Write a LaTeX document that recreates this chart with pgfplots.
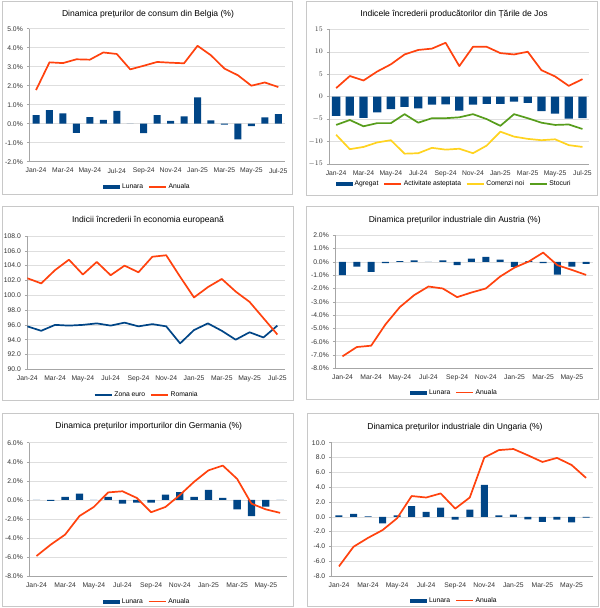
\documentclass[border=0pt]{standalone}
\usepackage{fontspec}
\setmainfont{Liberation Sans}
\usepackage{pgfplots}
\usepackage{pgfplotstable}
\pgfplotsset{compat=1.18}

\definecolor{bluebar}{HTML}{004586}
\definecolor{redline}{HTML}{FF420E}
\definecolor{yellowline}{HTML}{FFD320}
\definecolor{greenline}{HTML}{579D1C}
\definecolor{framegray}{HTML}{C8C8C8}

% Belgia: lunara, anuala
\pgfplotstableread{
x lun anu
0 0.45 1.77
1 0.72 3.23
2 0.55 3.19
3 -0.48 3.39
4 0.35 3.37
5 0.20 3.75
6 0.68 3.67
7 0.00 2.86
8 -0.50 3.05
9 0.45 3.25
10 0.15 3.21
11 0.38 3.18
12 1.38 4.10
13 0.18 3.60
14 -0.05 2.90
15 -0.82 2.55
16 -0.13 2.00
17 0.33 2.17
18 0.50 1.93
}\belgia

% Tarile de Jos
\pgfplotstableread{
x agr act com sto
0 -4.3 1.9 -8.5 -6.3
1 -4.2 4.6 -11.7 -5.2
2 -4.7 3.6 -11.2 -6.6
3 -3.5 5.6 -10.2 -5.9
4 -2.8 7.2 -9.7 -5.9
5 -2.3 9.4 -12.7 -3.9
6 -2.6 10.4 -12.6 -5.8
7 -1.8 10.7 -11.4 -4.8
8 -1.7 12.0 -11.8 -4.8
9 -3.1 6.8 -11.6 -4.6
10 -1.8 11.1 -12.6 -3.9
11 -1.6 11.1 -10.9 -5.0
12 -1.6 9.7 -7.8 -6.5
13 -1.1 9.4 -8.9 -3.9
14 -1.4 10.0 -9.4 -4.8
15 -3.2 5.9 -9.7 -5.8
16 -3.8 4.5 -9.5 -6.3
17 -4.9 2.4 -10.8 -6.2
18 -4.8 3.9 -11.2 -7.2
}\olanda

% Indicii increderii
\pgfplotstableread{
x euro rom
0 95.8 102.3
1 95.2 101.6
2 96.0 103.4
3 95.9 104.8
4 96.0 102.8
5 96.2 104.5
6 95.9 102.7
7 96.3 104.0
8 95.8 103.1
9 96.1 105.2
10 95.8 105.4
11 93.5 102.5
12 95.3 99.7
13 96.2 101.1
14 95.2 102.2
15 94.0 100.5
16 95.0 99.1
17 94.3 96.9
18 95.9 94.7
}\esi

% Austria
\pgfplotstableread{
x lun anu
0 -1.00 -7.10
1 -0.35 -6.40
2 -0.75 -6.30
3 -0.10 -4.70
4 0.05 -3.40
5 0.12 -2.50
6 0.00 -1.85
7 0.12 -2.00
8 -0.25 -2.65
9 0.25 -2.30
10 0.38 -2.00
11 0.18 -1.10
12 -0.38 -0.43
13 0.05 0.03
14 -0.10 0.70
15 -0.95 -0.25
16 -0.35 -0.60
17 -0.15 -0.98
}\austria

% Germania
\pgfplotstableread{
x lun anu
0 0.00 -5.90
1 -0.10 -4.70
2 0.30 -3.65
3 0.65 -1.70
4 0.00 -0.75
5 0.30 0.78
6 -0.40 0.90
7 -0.30 0.20
8 -0.30 -1.30
9 0.55 -0.75
10 0.80 0.50
11 0.30 1.90
12 1.05 3.10
13 0.20 3.60
14 -1.00 2.20
15 -1.70 -0.40
16 -0.70 -1.00
17 0.00 -1.37
}\germania

% Ungaria
\pgfplotstableread{
x lun anu
0 0.20 -6.70
1 0.40 -4.05
2 0.05 -2.85
3 -0.90 -1.80
4 0.20 -0.20
5 1.45 2.80
6 0.65 2.60
7 1.25 3.15
8 -0.40 1.10
9 0.95 2.60
10 4.30 8.00
11 0.20 9.00
12 0.30 9.15
13 -0.35 8.30
14 -0.70 7.40
15 -0.40 7.95
16 -0.75 7.00
17 -0.10 5.25
}\ungaria

\pgfplotsset{
  panel/.style={
    scale only axis, anchor=south west,
    axis x line*=bottom, axis y line*=left,
    axis line style={draw=black!35, line width=0.5bp},
    ymajorgrids, grid style={draw=black!13, line width=0.5bp},
    ytick style={draw=black!35, line width=0.5bp}, major tick length=2.5bp,
    xtick style={draw=none},
    tick align=outside,
    ticklabel style={font=\fontsize{6.8}{8}\selectfont, text=black!80},
    yticklabel style={xshift=-0.5bp},
    xticklabel style={yshift=-0.5bp},
    legend columns=-1,
    legend style={draw=none, fill=none, font=\fontsize{6.8}{8}\selectfont,
      anchor=center, inner sep=0pt,
      /tikz/every even column/.append style={column sep=3bp}},
  },
  months19/.style={xtick={0,2,...,18},
    xticklabels={Jan-24,Mar-24,May-24,Jul-24,Sep-24,Nov-24,Jan-25,Mar-25,May-25,Jul-25}},
  months18/.style={xtick={0,2,...,16},
    xticklabels={Jan-24,Mar-24,May-24,Jul-24,Sep-24,Nov-24,Jan-25,Mar-25,May-25}},
  pct/.style={yticklabel={\pgfmathprintnumber[fixed,fixed zerofill,precision=1,assume math mode=true]{\tick}\%}},
  dec1/.style={yticklabel={\pgfmathprintnumber[fixed,fixed zerofill,precision=1,assume math mode=true]{\tick}}},
  barplot/.style={ybar, bar width=#1, bar shift=0pt, fill=bluebar, draw=none,
    legend image code/.code={\fill[bluebar] (0bp,-2bp) rectangle (17bp,2bp);}},
  lineplot/.style={sharp plot, no markers, line width=1.7bp, draw=#1, line join=round,
    legend image code/.code={\draw[#1, line width=1.4bp] (0bp,0bp) -- (17bp,0bp);}},
}

\newcommand{\ttl}{\fontsize{8.6}{10}\selectfont}

\begin{document}
\begin{tikzpicture}
\path[use as bounding box, fill=white] (0bp,0bp) rectangle (600bp,-608bp);
% chenare
\draw[framegray, line width=0.6bp] (2bp,-1bp) rectangle (292bp,-194bp);
\draw[framegray, line width=0.6bp] (306bp,-1bp) rectangle (597bp,-195bp);
\draw[framegray, line width=0.6bp] (2bp,-206bp) rectangle (293bp,-400bp);
\draw[framegray, line width=0.6bp] (306bp,-206bp) rectangle (598bp,-399bp);
\draw[framegray, line width=0.6bp] (2bp,-413bp) rectangle (293bp,-606bp);
\draw[framegray, line width=0.6bp] (307bp,-413bp) rectangle (598bp,-606bp);

% titluri
\node[font=\ttl] at (148bp,-14bp) {Dinamica prețurilor de consum din Belgia (\%)};
\node[font=\ttl] at (454bp,-14bp) {Indicele încrederii producătorilor din Țările de Jos};
\node[font=\ttl] at (148bp,-220.7bp) {Indicii încrederii în economia europeană};
\node[font=\ttl] at (454.7bp,-220.7bp) {Dinamica prețurilor industriale din Austria (\%)};
\node[font=\ttl] at (148.8bp,-426.7bp) {Dinamica prețurilor importurilor din Germania (\%)};
\node[font=\ttl] at (455bp,-427.3bp) {Dinamica prețurilor industriale din Ungaria (\%)};

% 1 Belgia
\begin{axis}[panel, months19, pct,
  at={(29.3bp,-161.7bp)}, width=255.7bp, height=133bp,
  xmin=-0.5, xmax=18.5, ymin=-2, ymax=5, ytick={-2,-1,...,5},
  legend style={at={(0.462,-0.19)}}]
\addplot[barplot=7bp] table[x=x,y=lun] {\belgia};
\addlegendentry{Lunara}
\addplot[lineplot=redline] table[x=x,y=anu] {\belgia};
\addlegendentry{Anuala}
\end{axis}

% 2 Tarile de Jos
\begin{axis}[panel, months19,
  at={(329.3bp,-164bp)}, width=260bp, height=134.7bp,
  xmin=-0.5, xmax=18.5, ymin=-15, ymax=15, ytick={-15,-10,...,15},
  legend style={at={(0.48,-0.148)}}]
\addplot[barplot=8.3bp] table[x=x,y=agr] {\olanda};
\addlegendentry{Agregat}
\addplot[lineplot=redline] table[x=x,y=act] {\olanda};
\addlegendentry{Activitate asteptata}
\addplot[lineplot=yellowline] table[x=x,y=com] {\olanda};
\addlegendentry{Comenzi noi}
\addplot[lineplot=greenline] table[x=x,y=sto] {\olanda};
\addlegendentry{Stocuri}
\end{axis}

% 3 Indicii increderii
\begin{axis}[panel, months19, dec1,
  at={(27.3bp,-369.3bp)}, width=257.7bp, height=133.3bp,
  xmin=0, xmax=18.55, ymin=90, ymax=108, ytick={90,92,...,108},
  legend style={at={(0.464,-0.193)}}]
\addplot[lineplot=bluebar] table[x=x,y=euro] {\esi};
\addlegendentry{Zona euro}
\addplot[lineplot=redline] table[x=x,y=rom] {\esi};
\addlegendentry{Romania}
\end{axis}

% 4 Austria
\begin{axis}[panel, months18, pct,
  at={(335.3bp,-368.3bp)}, width=258bp, height=133bp,
  xmin=-0.5, xmax=17.5, ymin=-8, ymax=2, ytick={-8,-7,...,2},
  legend style={at={(0.462,-0.183)}}]
\addplot[barplot=7bp] table[x=x,y=lun] {\austria};
\addlegendentry{Lunara}
\addplot[lineplot=redline] table[x=x,y=anu] {\austria};
\addlegendentry{Anuala}
\end{axis}

% 5 Germania
\begin{axis}[panel, months18, pct,
  at={(29.3bp,-576bp)}, width=258bp, height=133.3bp,
  xmin=-0.5, xmax=17.5, ymin=-8, ymax=6, ytick={-8,-6,...,6},
  legend style={at={(0.457,-0.193)}}]
\addplot[barplot=7.3bp] table[x=x,y=lun] {\germania};
\addlegendentry{Lunara}
\addplot[lineplot=redline] table[x=x,y=anu] {\germania};
\addlegendentry{Anuala}
\end{axis}

% 6 Ungaria
\begin{axis}[panel, months18, dec1,
  at={(331.7bp,-576bp)}, width=261.6bp, height=133.3bp,
  xmin=-0.5, xmax=17.5, ymin=-8, ymax=10, ytick={-8,-6,...,10},
  legend style={at={(0.469,-0.185)}}]
\addplot[barplot=7bp] table[x=x,y=lun] {\ungaria};
\addlegendentry{Lunara}
\addplot[lineplot=redline] table[x=x,y=anu] {\ungaria};
\addlegendentry{Anuala}
\end{axis}
\end{tikzpicture}
\end{document}
